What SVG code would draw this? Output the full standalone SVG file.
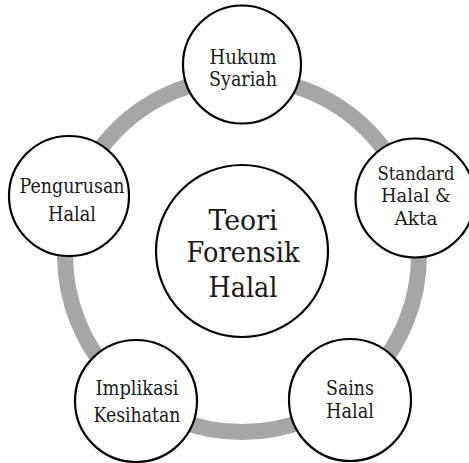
<svg xmlns="http://www.w3.org/2000/svg" width="469" height="463" viewBox="0 0 469 463">
<style>
.node circle{fill:#fff;stroke:#000;stroke-width:2.2}
text{font-family:'DejaVu Serif','Liberation Serif',serif;fill:#1a1a1a;text-anchor:middle}
.s{font-size:21px}
.r{font-size:18.5px}
.c{font-size:28px}
.ring{fill:none;stroke:#a6a6a6;stroke-width:16}
</style>
<rect width="469" height="463" fill="#fff"/>
<g id="connectors">
<circle class="ring" cx="242" cy="255" r="177"/>
</g>
<g id="center" class="node">
<circle cx="242" cy="251" r="86"/>
<text class="c" x="243" y="230" textLength="69" lengthAdjust="spacingAndGlyphs">Teori</text>
<text class="c" x="243" y="262" textLength="113" lengthAdjust="spacingAndGlyphs">Forensik</text>
<text class="c" x="243" y="297" textLength="69" lengthAdjust="spacingAndGlyphs">Halal</text>
</g>
<g id="hukum" class="node">
<circle cx="242" cy="64.5" r="59"/>
<text class="s" x="243" y="64" textLength="67" lengthAdjust="spacingAndGlyphs">Hukum</text>
<text class="s" x="243" y="86" textLength="68" lengthAdjust="spacingAndGlyphs">Syariah</text>
</g>
<g id="standard" class="node">
<circle cx="415" cy="198" r="59.5"/>
<text class="r" x="416" y="180" textLength="77" lengthAdjust="spacingAndGlyphs">Standard</text>
<text class="r" x="416" y="202" textLength="70" lengthAdjust="spacingAndGlyphs">Halal &amp;</text>
<text class="r" x="416" y="225" textLength="43" lengthAdjust="spacingAndGlyphs">Akta</text>
</g>
<g id="pengurusan" class="node">
<circle cx="69" cy="196" r="60"/>
<text class="s" x="72" y="193" textLength="105" lengthAdjust="spacingAndGlyphs">Pengurusan</text>
<text class="s" x="72" y="221" textLength="48" lengthAdjust="spacingAndGlyphs">Halal</text>
</g>
<g id="implikasi" class="node">
<circle cx="136" cy="401" r="61"/>
<text class="s" x="137" y="395" textLength="83" lengthAdjust="spacingAndGlyphs">Implikasi</text>
<text class="s" x="137" y="422" textLength="87" lengthAdjust="spacingAndGlyphs">Kesihatan</text>
</g>
<g id="sains" class="node">
<circle cx="350" cy="400" r="61"/>
<text class="s" x="350" y="395" textLength="48" lengthAdjust="spacingAndGlyphs">Sains</text>
<text class="s" x="350" y="418" textLength="48" lengthAdjust="spacingAndGlyphs">Halal</text>
</g>
</svg>
